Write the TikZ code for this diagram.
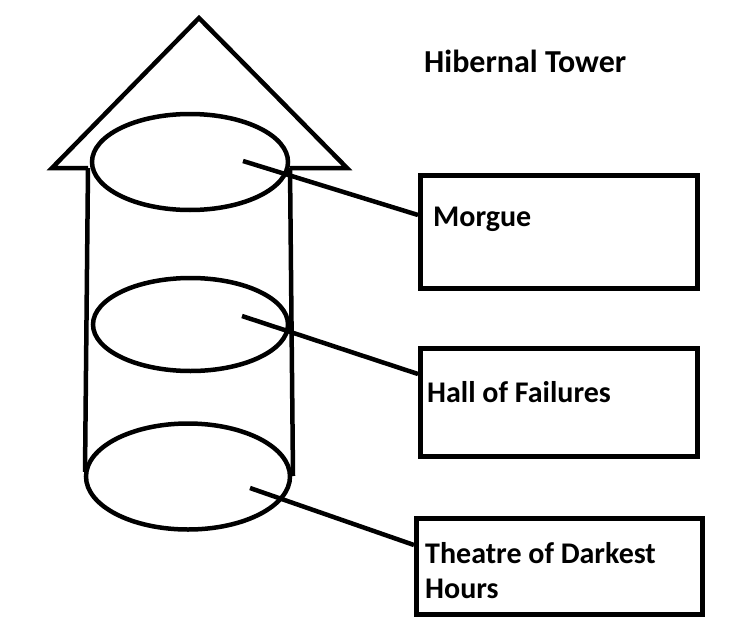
\documentclass[tikz,border=0pt]{standalone}
\usepackage{fontspec}
\setmainfont{Carlito}
\usetikzlibrary{shapes.geometric}
\begin{document}
\begin{tikzpicture}[x=1pt,y=-1pt,
  ink/.style={line width=4.5pt,line cap=round,line join=miter},
  boxln/.style={line width=5pt,line join=miter},
  disc/.style={draw,ink,ellipse,inner sep=0pt},
  lbl/.style={anchor=base west,inner sep=0pt,font=\fontsize{30}{35}\selectfont\bfseries,align=left}]
\useasboundingbox (0,0) rectangle (738,642);
% roof
\coordinate (apex) at (199,18);
\coordinate (rl) at (52,168);
\coordinate (rr) at (347,168);
\coordinate (cl) at (88,168);
\coordinate (cr) at (290,168);
\draw[ink,line cap=butt] (cl) -- (rl) -- (apex) -- (rr) -- (cr);
% cylinder sides
\coordinate (lb) at (85,472);
\coordinate (rb) at (293,476);
\draw[ink,line cap=butt] (cl) -- (lb);
\draw[ink,line cap=butt] (cr) -- (rb);
% ellipses
\node (e1) [disc,minimum width=196pt,minimum height=96pt] at (190,162) {};
\node (e2) [disc,minimum width=195pt,minimum height=93pt] at (190.5,324.5) {};
\node (e3) [disc,minimum width=204pt,minimum height=106pt] at (188,476.5) {};
% boxes
\node (b1) [draw,boxln,minimum width=277pt,minimum height=113pt,anchor=north west,inner sep=0pt] at (418,173) {};
\node (b2) [draw,boxln,minimum width=277pt,minimum height=108pt,anchor=north west,inner sep=0pt] at (418,346) {};
\node (b3) [draw,boxln,minimum width=286pt,minimum height=96pt,anchor=north west,inner sep=0pt] at (414,516) {};
% connectors
\coordinate (p1) at (243,161);
\coordinate (p2) at (242,316);
\coordinate (p3) at (250,488);
\draw[ink,line cap=butt] (p1) -- (b1.west |- 0,215);
\draw[ink,line cap=butt] (p2) -- (b2.west |- 0,374);
\draw[ink,line cap=butt] (p3) -- (b3.west |- 0,545);
% labels
\node (t0) [lbl,font=\fontsize{32}{35}\selectfont\bfseries] at (424,72) {Hibernal Tower};
\node (t1) [lbl] at (433,226) {Morgue};
\node (t2) [lbl] at (427,402) {Hall of Failures};
\node (t3) [lbl] at (425,598) {Theatre of Darkest\\Hours};
\end{tikzpicture}
\end{document}
